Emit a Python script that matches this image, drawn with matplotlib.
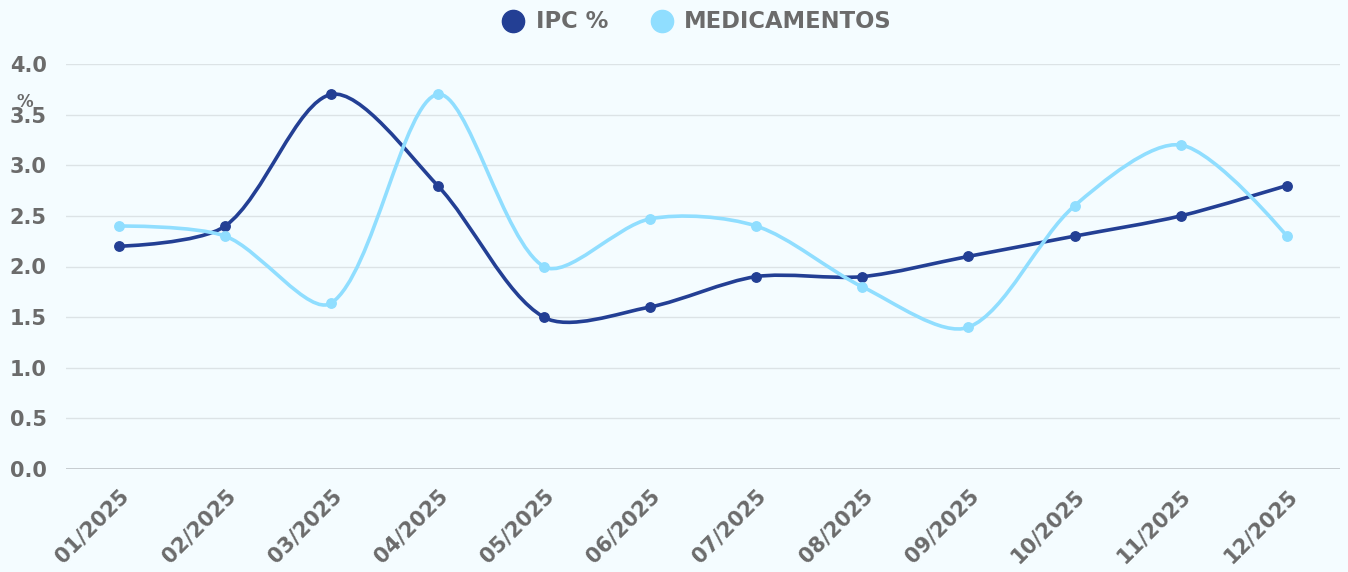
import matplotlib
matplotlib.use("Agg")
import matplotlib.pyplot as plt
from matplotlib.path import Path
from matplotlib.patches import PathPatch
from matplotlib.lines import Line2D
import numpy as np

#------
#data
months = ["01/2025", "02/2025", "03/2025", "04/2025", "05/2025", "06/2025",
          "07/2025", "08/2025", "09/2025", "10/2025", "11/2025", "12/2025"]
ipc = [2.2, 2.4, 3.7, 2.8, 1.5, 1.6, 1.9, 1.9, 2.1, 2.3, 2.5, 2.8]
medicamentos = [2.4, 2.3, 1.64, 3.7, 2.0, 2.47, 2.4, 1.8, 1.4, 2.6, 3.2, 2.3]
y_ticks = [0.0, 0.5, 1.0, 1.5, 2.0, 2.5, 3.0, 3.5, 4.0]

#------
#styles
bg = "#F4FCFF"
c_ipc = "#233F94"
c_med = "#90DEFF"
c_text = "#6B6B6B"

plt.rcParams['font.family'] = ["DejaVu Sans"]

fig = plt.figure(figsize=(13.48, 5.72), dpi=100, facecolor=bg)
ax = fig.add_axes([66/1348, (572-469)/572, (1340-66)/1348, (469-64)/572])
ax.set_facecolor(bg)
ax.set_xlim(-0.5, len(months) - 0.5)
ax.set_ylim(0, 4.0)


def smooth_path(xs, ys, smooth=0.3):
    #smoothed bezier line, control points worked out in pixel space,
    #end points keep their control point on themselves
    pts = ax.transData.transform(np.column_stack([xs, ys]))
    n = len(pts)
    cp_in = pts.copy()
    cp_out = pts.copy()
    for i in range(1, n-1):
        prev, cur, nxt = pts[i-1], pts[i], pts[i+1]
        v = nxt - prev
        l_prev = np.hypot(*(cur - prev))
        l_next = np.hypot(*(nxt - cur))
        r = l_next/(l_next + l_prev)
        cp_out[i] = cur + v*smooth*r
        cp_in[i] = cur - v*smooth*(1 - r)
    verts = [pts[0]]
    codes = [Path.MOVETO]
    for i in range(n-1):
        verts += [cp_out[i], cp_in[i+1], pts[i+1]]
        codes += [Path.CURVE4]*3
    inv = ax.transData.inverted()
    return Path(inv.transform(np.array(verts)), codes)


x = np.arange(len(months))
for vals, col, z in ((ipc, c_ipc, 3), (medicamentos, c_med, 4)):
    ax.add_patch(PathPatch(smooth_path(x, vals), facecolor='none', edgecolor=col,
                           lw=2.6, zorder=z, capstyle='round'))
    ax.plot(x, vals, 'o', color=col, markersize=6.8, zorder=z+0.5)

#grid and axes
ax.set_yticks(y_ticks)
ax.set_yticklabels(["%.1f" % v for v in y_ticks])
ax.set_xticks(x)
ax.set_xticklabels(months, rotation=45, ha='right', rotation_mode='anchor')
ax.grid(axis='y', color='#DCE3E6', lw=1)
ax.set_axisbelow(True)
for s in ax.spines.values():
    s.set_visible(False)
ax.axhline(0, color='#BFC5C9', lw=1.2, zorder=2)
ax.tick_params(axis='y', length=0, pad=14, labelsize=15, labelcolor=c_text)
ax.tick_params(axis='x', length=0, pad=12, labelsize=15, labelcolor=c_text)
for lab in ax.get_xticklabels() + ax.get_yticklabels():
    lab.set_fontweight('bold')

#axis name
fig.text(25/1348, 1 - 102/572, "%", ha='center', va='center',
         fontsize=12, fontweight='bold', color=c_text)

#legend
handles = [Line2D([], [], marker='o', linestyle='', color=c_ipc, markersize=16),
           Line2D([], [], marker='o', linestyle='', color=c_med, markersize=16)]
leg = fig.legend(handles, ["IPC %", "MEDICAMENTOS"], loc='center',
                 bbox_to_anchor=(697/1348, 1 - 22/572), ncol=2, frameon=False,
                 handletextpad=0.5, columnspacing=1.85, handlelength=1.0,
                 prop={'size': 16.3, 'weight': 'bold'})
for t in leg.get_texts():
    t.set_color(c_text)

fig.savefig("out.png", dpi=100, facecolor=bg)
